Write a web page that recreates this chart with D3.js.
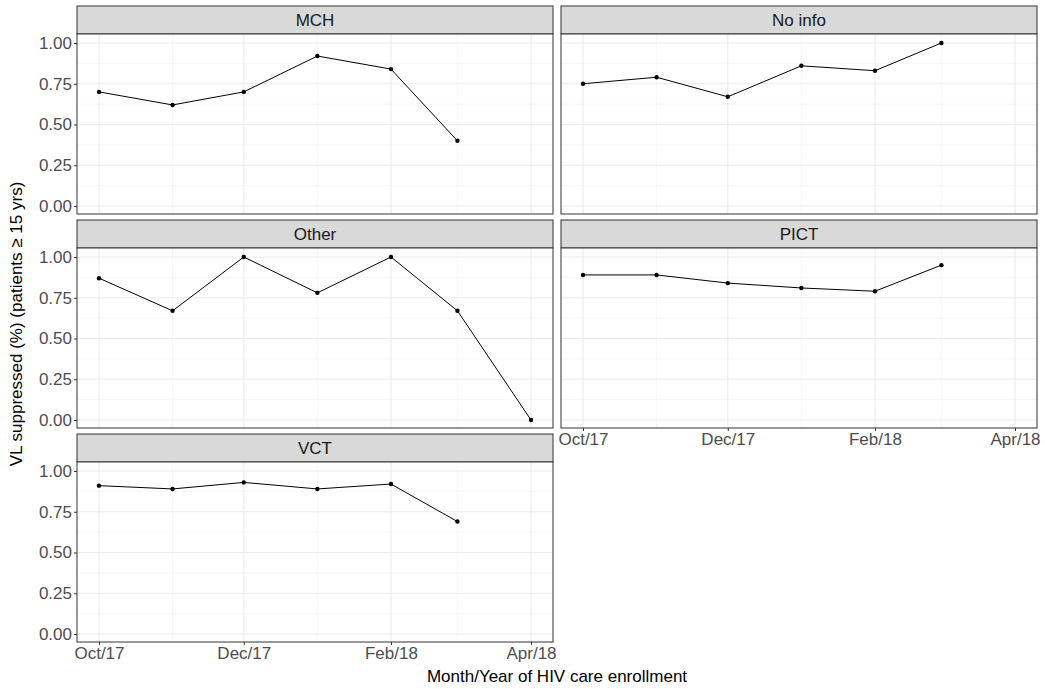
<!DOCTYPE html>
<html><head><meta charset="utf-8">
<script src="https://cdn.jsdelivr.net/npm/d3@7"></script>
<style>body{margin:0;background:#fff;font-family:Arial,"Liberation Sans",sans-serif}</style>
</head><body><div id="chart"></div>
<script>
const months = ["2017-10","2017-11","2017-12","2018-01","2018-02","2018-03","2018-04"];
const panels = ["MCH","No info","Other","PICT","VCT"];
const mch = [0.70,0.62,0.70,0.92,0.84,0.40];
const noInfo = [0.75,0.79,0.67,0.86,0.83,1.00];
const other = [0.87,0.67,1.00,0.78,1.00,0.67,0.00];
const pict = [0.89,0.89,0.84,0.81,0.79,0.95];
const vct = [0.91,0.89,0.93,0.89,0.92,0.69];
const series = [mch,noInfo,other,pict,vct];
const yTicks = [0,0.25,0.5,0.75,1];
const xTicks = ["2017-10","2017-12","2018-02","2018-04"];

const width = 1045, height = 689;
const parse = d3.timeParse("%Y-%m");
const fmt = d3.timeFormat("%b/%y");
const colX = [77,561], panelW = 476;
const rowY = [6,220,434], stripH = 28, panelH = 180;

const svg = d3.select("#chart").append("svg").attr("width",width).attr("height",height);

const x = d3.scaleTime()
  .domain([parse("2017-10"), parse("2018-04")])
  .range([22, 454]);
const y = d3.scaleLinear().domain([0,1]).range([panelH-8, 9]);
const minorY = d3.range(0.125,1,0.25);
const minorX = ["2017-11","2018-01","2018-03"].map(parse);

panels.forEach((name,i) => {
  const col = i%2, row = Math.floor(i/2);
  const g = svg.append("g").attr("transform",`translate(${colX[col]},${rowY[row]})`);
  g.append("rect").attr("width",panelW).attr("height",stripH)
    .attr("fill","#d9d9d9").attr("stroke","#333").attr("stroke-width",1);
  g.append("text").attr("x",panelW/2).attr("y",stripH/2+6).attr("text-anchor","middle")
    .attr("font-size",17).attr("fill","#1a1a1a").text(name);
  const p = g.append("g").attr("transform",`translate(0,${stripH})`);
  p.append("rect").attr("width",panelW).attr("height",panelH).attr("fill","#fff");
  p.selectAll(".mny").data(minorY).join("line").attr("x1",0).attr("x2",panelW)
    .attr("y1",d=>y(d)).attr("y2",d=>y(d)).attr("stroke","#f2f2f2").attr("stroke-width",0.6);
  p.selectAll(".mnx").data(minorX).join("line").attr("y1",0).attr("y2",panelH)
    .attr("x1",d=>x(d)).attr("x2",d=>x(d)).attr("stroke","#f2f2f2").attr("stroke-width",0.6);
  p.selectAll(".mjy").data(yTicks).join("line").attr("x1",0).attr("x2",panelW)
    .attr("y1",d=>y(d)).attr("y2",d=>y(d)).attr("stroke","#ebebeb").attr("stroke-width",1.1);
  p.selectAll(".mjx").data(xTicks.map(parse)).join("line").attr("y1",0).attr("y2",panelH)
    .attr("x1",d=>x(d)).attr("x2",d=>x(d)).attr("stroke","#ebebeb").attr("stroke-width",1.1);
  const pts = series[i].map((v,j) => ({d:parse(months[j]), v}));
  p.append("path").datum(pts).attr("fill","none").attr("stroke","#000").attr("stroke-width",1)
    .attr("d", d3.line().x(d=>x(d.d)).y(d=>y(d.v)));
  p.selectAll("circle").data(pts).join("circle").attr("cx",d=>x(d.d)).attr("cy",d=>y(d.v)).attr("r",2.2);
  p.append("rect").attr("width",panelW).attr("height",panelH).attr("fill","none")
    .attr("stroke","#333").attr("stroke-width",1);
  if (col === 0) {
    const ya = p.append("g").call(d3.axisLeft(y).tickValues(yTicks).tickFormat(d3.format(".2f")).tickSize(3).tickPadding(2));
    ya.select(".domain").remove();
    ya.selectAll("line").attr("stroke","#333");
    ya.selectAll("text").attr("font-size",17).attr("fill","#4d4d4d");
  }
  if (i === 3 || i === 4) {
    const xa = p.append("g").attr("transform",`translate(0,${panelH})`)
      .call(d3.axisBottom(x).tickValues(xTicks.map(parse)).tickFormat(fmt).tickSize(3).tickPadding(2));
    xa.select(".domain").remove();
    xa.selectAll("line").attr("stroke","#333");
    xa.selectAll("text").attr("font-size",17).attr("fill","#4d4d4d");
  }
});

svg.append("text").attr("transform",`translate(22,${(rowY[0]+rowY[2]+stripH+panelH)/2}) rotate(-90)`)
  .attr("text-anchor","middle").attr("font-size",17).attr("fill","#000")
  .text("VL suppressed (%) (patients ≥ 15 yrs)");
svg.append("text").attr("x",557).attr("y",682).attr("text-anchor","middle")
  .attr("font-size",17).attr("fill","#000").text("Month/Year of HIV care enrollment");
</script></body></html>
